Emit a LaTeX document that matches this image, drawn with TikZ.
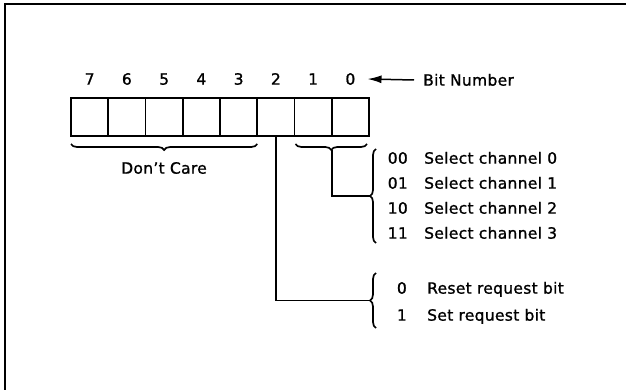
\documentclass[tikz,border=0pt]{standalone}
\usepackage{fontspec}
\setmainfont{DejaVu Sans}[LetterSpace=2, FakeBold=1.2]
\usetikzlibrary{positioning,arrows.meta,decorations.pathreplacing}

\tikzset{
  cell/.style={draw, line width=1.6pt, minimum width=37.25pt, minimum height=38pt,
               inner sep=0pt, outer sep=0pt},
  lbl/.style={inner sep=0pt, text height=11.3pt, text depth=0pt,
              font=\fontsize{15.5}{18}\selectfont},
  curly/.style={decorate, decoration={brace, amplitude=6pt}, line width=1.7pt},
  wire/.style={line width=1.5pt},
}

\begin{document}
\begin{tikzpicture}[x=1pt, y=-1pt]
  \useasboundingbox (0,0) rectangle (626,390);
  \draw[line width=2.6pt] (626,4) -- (5,4) -- (5,390);

  % register cells and bit numbers
  \node[cell] (b7) at (89.625,117) {};
  \foreach \i [evaluate=\i as \j using int(\i+1)] in {6,...,0}
    \node[cell, right=0pt of b\j] (b\i) {};
  \foreach \i in {0,...,7}
    \node[lbl] (n\i) at ([yshift=19pt]b\i.north) {\i};
  \node[lbl, anchor=west] (bitnum) at (423,80) {Bit Number};
  \draw[wire, -{Latex[length=14pt,width=8pt]}] ([xshift=-9pt]bitnum.west) -- ([xshift=12pt]n0.east);

  % bits 7-3
  \draw[curly] ([yshift=-8pt]b3.south east) -- ([yshift=-8pt]b7.south west);
  \node[lbl] (dontcare) at (164,168) {Don’t Care};

  % bits 1-0
  \draw[curly] ([xshift=-2pt,yshift=-8pt]b0.south east) -- ([xshift=1pt,yshift=-8pt]b1.south west);
  \coordinate (selTip) at ([yshift=-14pt]b1.south east);
  \draw[curly] (376,243) -- (376,149);
  \coordinate (selIn) at (370,196);
  \draw[wire] (selTip) |- (selIn);
  \foreach \y/\c/\t [count=\k] in {158/00/Select channel 0, 183/01/Select channel 1,
                                   208/10/Select channel 2, 233/11/Select channel 3} {
    \node[lbl, anchor=east] (code\k) at (408,\y) {\c};
    \node[lbl, anchor=west] (sel\k) at (424,\y) {\t};
  }

  % bit 2
  \draw[curly] (376,328) -- (376,273);
  \coordinate (reqIn) at (370,300.5);
  \draw[wire] (b2.south) |- (reqIn);
  \node[lbl, anchor=east] (rc0) at (407,288) {0};
  \node[lbl, anchor=west] (req0) at (427,288) {Reset request bit};
  \node[lbl, anchor=east] (rc1) at (407,315) {1};
  \node[lbl, anchor=west] (req1) at (427,315) {Set request bit};
\end{tikzpicture}
\end{document}
